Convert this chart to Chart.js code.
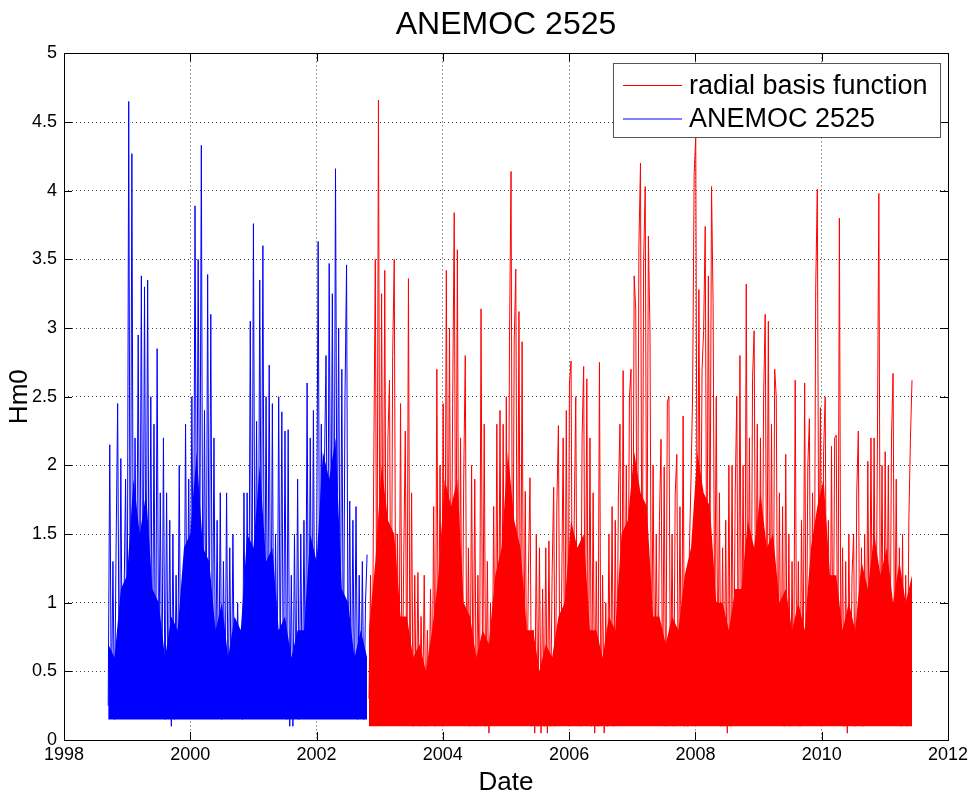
<!DOCTYPE html>
<html>
<head>
<meta charset="utf-8">
<script src="https://cdn.jsdelivr.net/npm/chart.js@4"></script>
<style>
  html, body { margin: 0; padding: 0; background: #fff; }
  #wrap { position: relative; width: 975px; height: 798px; }
</style>
</head>
<body>
<div id="wrap"><canvas id="grafico"></canvas></div>
<script>
/* ============================
   DATI
============================ */

// campionamento: un punto ogni 0.025 anni
const passo = 0.025;
const inizioAnemoc = 1998.70;
const inizioRbf = 2002.83;

// ANEMOC 2525 (blu)
const anemocHm0 = [
  0.25, 2.15, 0.2, 1.3, 0.15, 1.4, 2.45, 0.2, 2.05, 0.3,
  1.0, 1.9, 0.4, 4.65, 0.5, 4.27, 0.6, 2.2, 0.9, 2.95,
  0.7, 3.38, 0.6, 3.3, 0.8, 3.35, 0.5, 2.5, 0.3, 2.3,
  0.2, 2.85, 0.4, 1.8, 0.2, 2.2, 0.15, 1.8, 0.2, 1.6,
  0.1, 1.5, 0.15, 1.2, 0.3, 2.0, 0.2, 1.1, 0.4, 2.3,
  0.5, 1.9, 0.6, 2.5, 0.7, 3.89, 0.9, 3.5, 1.2, 4.33,
  0.6, 2.4, 0.5, 3.39, 0.7, 3.1, 0.4, 2.2, 0.3, 1.6,
  0.2, 1.8, 0.15, 1.3, 0.2, 1.8, 0.25, 1.4, 0.2, 1.5,
  0.3, 0.3, 1.0, 0.2, 0.8, 0.15, 1.8, 0.2, 1.8, 0.4,
  3.05, 0.6, 3.76, 0.8, 2.32, 0.5, 3.35, 1.0, 3.6, 0.4,
  2.5, 0.6, 2.73, 0.3, 2.45, 0.2, 1.5, 0.3, 2.5, 0.5,
  2.39, 0.2, 2.25, 0.15, 2.26, 0.1, 1.2, 0.1, 1.5, 0.2,
  1.9, 0.15, 1.5, 0.2, 1.6, 0.3, 2.6, 0.2, 2.2, 0.4,
  2.4, 0.3, 1.2, 3.63, 0.6, 2.3, 0.5, 2.0, 2.8, 0.7,
  3.47, 1.0, 3.25, 0.8, 4.16, 1.2, 3.0, 0.6, 2.7, 0.4,
  2.5, 3.46, 0.3, 1.74, 0.2, 1.6, 0.3, 1.7, 0.15, 1.2,
  0.2, 1.3, 0.15, 1.0, 1.35
];

// radial basis function (rosso)
const rbfHm0 = [
  0.3, 1.2, 0.2, 1.95, 3.5, 0.4, 4.66, 0.6, 3.25, 0.8,
  3.42, 0.3, 2.2, 2.62, 0.2, 2.8, 3.5, 0.5, 1.5, 0.3,
  2.45, 0.2, 1.3, 2.25, 0.15, 3.36, 0.2, 1.8, 0.1, 1.2,
  0.15, 1.22, 0.1, 0.9, 0.2, 1.2, 0.1, 0.8, 0.2, 1.1,
  0.15, 1.7, 0.1, 2.7, 0.3, 2.0, 0.4, 2.45, 0.6, 3.42,
  0.8, 3.0, 0.5, 2.45, 3.84, 0.7, 3.57, 0.4, 2.2, 0.3,
  1.9, 2.8, 0.2, 1.4, 0.1, 2.0, 0.2, 1.9, 0.1, 1.2,
  0.2, 3.14, 0.3, 2.3, 0.1, 1.3, 0.05, 1.0, 0.2, 1.7,
  0.3, 2.3, 0.2, 2.4, 0.4, 2.3, 0.2, 2.5,
  0.2, 2.9, 4.14, 0.5, 2.9, 3.43, 0.6, 3.12, 0.4, 2.9,
  0.3, 1.81, 0.2, 1.2, 1.91, 0.1, 0.8, 0.05, 1.5, 0.1,
  1.4, 0.05, 1.1, 0.1, 1.4, 0.05, 1.45, 0.1, 1.2, 1.84,
  0.1, 1.7, 2.29, 0.2, 1.0, 2.2, 0.3, 2.4, 0.2, 2.6,
  2.76, 0.3, 1.6, 2.5, 0.2, 1.4, 0.1, 2.2, 2.72, 0.3,
  2.63, 0.2, 2.2, 0.1, 1.8, 0.05, 1.3, 0.1, 2.75, 0.15,
  1.2, 0.05, 1.0, 0.1, 1.5, 0.2, 1.7, 0.1, 1.6, 0.2,
  1.8, 2.3, 0.3, 2.69, 0.4, 2.0, 0.6, 2.5, 2.7, 0.5,
  3.38, 3.13, 0.7, 3.6, 4.2,
  0.6, 3.5, 4.03, 0.8, 3.67, 2.99, 0.4, 2.0, 0.3, 1.5,
  0.2, 1.6, 2.19, 0.2, 1.99, 0.1, 2.46, 2.5, 0.2, 1.5,
  0.1, 1.8, 2.08, 0.15, 1.7, 0.2, 2.36, 0.1, 1.2, 0.1,
  1.4, 1.9, 2.5, 4.12, 4.4, 0.8, 3.28, 1.0, 2.7, 2.98,
  3.74, 0.9, 3.38, 1.2, 4.03, 3.18, 0.7, 2.5, 0.3, 1.8,
  0.1, 1.4, 0.2, 1.6, 0.05, 2.0, 0.1, 2.0, 0.2, 1.8,
  2.5, 0.3, 2.8, 0.4, 2.0, 0.2, 3.32, 0.5, 2.2, 0.3,
  2.64, 2.98, 0.6, 2.3, 0.4, 2.2, 0.5, 2.5, 3.1, 0.7,
  3.05, 0.5, 2.3, 0.3, 2.7, 2.5,
  0.3, 1.8, 0.2, 1.7, 0.1, 2.08, 0.2, 1.5, 0.1, 1.3,
  0.2, 2.62, 0.3, 1.3, 0.1, 1.6, 0.4, 2.6, 0.3, 2.0,
  2.34, 0.2, 1.8, 0.4, 3.29, 4.01, 1.0, 2.42, 0.5, 2.1,
  2.5, 0.3, 1.6, 0.2, 2.14, 0.3, 2.2, 2.22, 0.2, 3.8,
  0.3, 1.4, 0.1, 1.3, 0.05, 1.5, 0.2, 1.2, 1.5, 0.1,
  1.8, 2.25, 0.2, 1.4, 0.1, 1.5, 0.3, 2.03, 0.4, 2.2,
  0.5, 2.2, 0.3, 2.0, 3.98, 0.4, 2.0, 0.3, 2.1, 0.5,
  2.0, 0.3, 2.2, 2.67, 0.4, 1.9, 0.2, 1.4, 0.1, 1.5,
  0.2, 1.2, 0.1, 1.6, 2.19, 2.62
];

// livello fino a cui la massa di colore è piena (un valore ogni 0.1 anni)
const passoNucleo = 0.1;
const anemocNucleo = [
  0.7, 0.6, 1.1, 1.2, 1.9, 1.5, 1.8, 1.1, 1.0, 0.6,
  0.9, 0.8, 1.4, 1.5, 2.1, 1.4, 1.3, 0.8, 1.0, 0.6,
  0.9, 0.8, 1.5, 1.4, 2.0, 1.3, 1.4, 0.8, 0.9, 0.6,
  0.8, 0.8, 1.5, 1.3, 2.1, 1.9, 2.2, 1.1, 1.0, 0.6,
  0.8, 0.6
];
const rbfNucleo = [
  0.8, 1.3,
  2.0, 1.6, 1.5, 0.9, 0.9, 0.6, 0.7, 0.5, 0.8, 1.2,
  1.9, 1.7, 1.9, 1.0, 0.9, 0.6, 0.8, 0.7, 1.2, 1.4,
  2.1, 1.6, 1.4, 0.8, 0.8, 0.5, 0.7, 0.6, 0.9, 1.0,
  1.6, 1.4, 1.5, 0.8, 0.8, 0.6, 0.9, 0.8, 1.5, 1.6,
  2.1, 1.8, 1.7, 0.9, 0.9, 0.7, 0.9, 0.8, 1.2, 1.4,
  2.1, 1.8, 1.7, 1.0, 1.0, 0.8, 1.1, 1.1, 1.6, 1.4,
  1.8, 1.4, 1.5, 1.0, 1.1, 0.8, 1.0, 0.8, 1.4, 1.7,
  1.9, 1.2, 1.2, 0.8, 1.0, 0.8, 1.3, 1.1, 1.5, 1.2,
  1.4, 1.0, 1.3, 1.0, 1.2
];

const anniTick = [1998, 2000, 2002, 2004, 2006, 2008, 2010, 2012];
const hm0Tick = [0, 0.5, 1, 1.5, 2, 2.5, 3, 3.5, 4, 4.5, 5];
const hm0Etichette = ['0', '0.5', '1', '1.5', '2', '2.5', '3', '3.5', '4', '4.5', '5'];

/* ============================
   CORNICE + LEGENDA
============================ */

const font = '"Liberation Sans", Arial, Helvetica, sans-serif';
Chart.defaults.font.family = font;
Chart.defaults.color = '#000';

const cornice = {
  id: 'cornice',
  afterDraw(chart) {
    const { ctx, chartArea: a, scales } = chart;
    ctx.save();
    ctx.setLineDash([]);
    ctx.strokeStyle = '#000';
    ctx.lineWidth = 1;

    // tacche interne stile matlab
    ctx.beginPath();
    scales.x.ticks.forEach(t => {
      const px = Math.round(scales.x.getPixelForValue(t.value)) + 0.5;
      ctx.moveTo(px, a.bottom); ctx.lineTo(px, a.bottom - 8);
      ctx.moveTo(px, a.top); ctx.lineTo(px, a.top + 8);
    });
    scales.y.ticks.forEach(t => {
      const py = Math.round(scales.y.getPixelForValue(t.value)) + 0.5;
      ctx.moveTo(a.left, py); ctx.lineTo(a.left + 8, py);
      ctx.moveTo(a.right, py); ctx.lineTo(a.right - 8, py);
    });
    ctx.stroke();
    ctx.strokeRect(Math.round(a.left) + 0.5, Math.round(a.top) + 0.5,
                   Math.round(a.width), Math.round(a.height));

    // legenda in alto a destra
    const w = 327, h = 74;
    const x0 = Math.round(a.right) - 8 - w, y0 = Math.round(a.top) + 10;
    ctx.fillStyle = '#fff';
    ctx.fillRect(x0, y0, w, h);
    ctx.strokeStyle = '#555';
    ctx.strokeRect(x0 + 0.5, y0 + 0.5, w, h);
    ctx.font = '27px ' + font;
    ctx.textBaseline = 'middle';
    chart.data.datasets.filter(ds => ds.label).forEach((ds, i) => {
      const yy = y0 + 22.5 + i * 33.5;
      ctx.strokeStyle = ds.borderColor;
      ctx.beginPath();
      ctx.moveTo(x0 + 10, yy); ctx.lineTo(x0 + 69, yy);
      ctx.stroke();
      ctx.fillStyle = '#000';
      ctx.fillText(ds.label, x0 + 76, yy + 1);
    });
    ctx.restore();
  }
};

/* ============================
   GRAFICO
============================ */

function serie(valori, inizio, dt) {
  return valori.map((v, i) => ({ x: inizio + i * dt, y: v }));
}

function linea(label, valori, inizio, colore) {
  return {
    label,
    data: serie(valori, inizio, passo),
    borderColor: colore,
    borderWidth: 1,
    pointRadius: 0,
    tension: 0
  };
}

function nucleo(valori, inizio, colore, fondo) {
  return {
    label: '',
    data: serie(valori, inizio, passoNucleo),
    borderColor: colore,
    backgroundColor: colore,
    borderWidth: 0,
    pointRadius: 0,
    tension: 0,
    fill: { value: fondo }
  };
}

new Chart(document.getElementById('grafico'), {
  type: 'line',
  data: {
    datasets: [
      linea('radial basis function', rbfHm0, inizioRbf, '#ff0000'),
      linea('ANEMOC 2525', anemocHm0, inizioAnemoc, '#0000ff'),
      nucleo(rbfNucleo, inizioRbf, '#ff0000', 0.1),
      nucleo(anemocNucleo, inizioAnemoc, '#0000ff', 0.15)
    ]
  },
  options: {
    responsive: true,
    maintainAspectRatio: false,
    animation: false,
    layout: { padding: { left: 0, right: 27, top: 0, bottom: 0 } },
    plugins: {
      legend: { display: false },
      tooltip: { enabled: false },
      title: {
        display: true,
        fullSize: false,
        text: 'ANEMOC 2525',
        color: '#000',
        font: { size: 32, weight: 'normal' },
        padding: { top: 6, bottom: 9 }
      }
    },
    scales: {
      x: {
        type: 'linear',
        min: 1998,
        max: 2012,
        afterBuildTicks: s => { s.ticks = anniTick.map(v => ({ value: v })); },
        afterFit: s => { s.height = 58; },
        ticks: {
          color: '#000',
          font: { size: 18 },
          padding: 4,
          maxRotation: 0,
          callback: (v, i) => String(anniTick[i])
        },
        grid: { color: 'rgba(0,0,0,0.75)', lineWidth: 1, drawTicks: false },
        border: { display: false, dash: [1, 3] },
        title: {
          display: true,
          text: 'Date',
          color: '#000',
          font: { size: 26 },
          padding: { top: 0, bottom: 0 }
        }
      },
      y: {
        min: 0,
        max: 5,
        afterBuildTicks: s => { s.ticks = hm0Tick.map(v => ({ value: v })); },
        afterFit: s => { s.width = 64; },
        ticks: {
          color: '#000',
          font: { size: 18 },
          padding: 7,
          callback: (v, i) => hm0Etichette[i]
        },
        grid: { color: 'rgba(0,0,0,0.75)', lineWidth: 1, drawTicks: false },
        border: { display: false, dash: [1, 3] },
        title: {
          display: true,
          text: 'Hm0',
          color: '#000',
          font: { size: 26 },
          padding: { top: 4, bottom: 0 }
        }
      }
    }
  },
  plugins: [cornice]
});
</script>
</body>
</html>
